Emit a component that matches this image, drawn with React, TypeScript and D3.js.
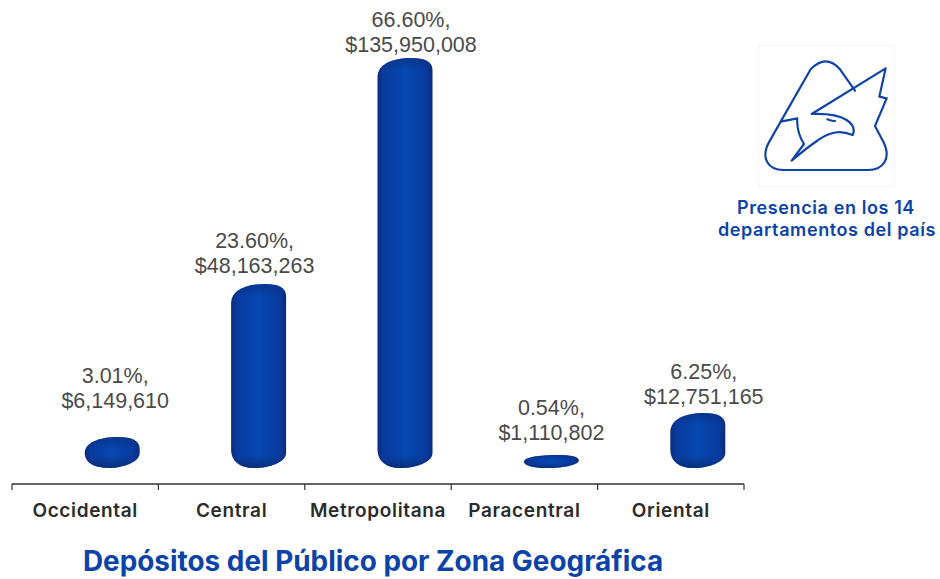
import React from "react";
import * as d3 from "d3";

const categories = ["Occidental", "Central", "Metropolitana", "Paracentral", "Oriental"];
const amounts = [6149610, 48163263, 135950008, 1110802, 12751165];
const shares = ["3.01%", "23.60%", "66.60%", "0.54%", "6.25%"];
const amountLabels = ["$6,149,610", "$48,163,263", "$135,950,008", "$1,110,802", "$12,751,165"];
const labelShift = [3, -4, 6, 0, 6];
const labelGap = [29, 11, 6, 15, 9];

const W = 940, H = 579;
const BLUE = "#0b43a8";

// The source's 3D rendering is not proportional, so the value scale has breakpoints read off the picture.
const heightScale = d3.scaleLinear()
  .domain([0, 1110802, 6149610, 12751165, 48163263, 135950008])
  .range([8, 13, 31, 55, 184, 410]);
const band = d3.scaleBand().domain(categories).range([12, 744]);
const baseY = 468, axisY = 484;
const barW = 55, barShift = 27;

function barPath(x0: number, top: number, bottom: number) {
  const x1 = x0 + barW, w = barW;
  const h = bottom - top;
  const tl = Math.min(19, 0.52 * h), tr = Math.min(12, 0.42 * h);
  const bl = Math.min(18, 0.48 * h), br = Math.min(15, 0.58 * h);
  const p = d3.path();
  p.moveTo(x0, top + tl);
  p.bezierCurveTo(x0, top + tl * 0.35, x0 + w * 0.25, top, x0 + w * 0.62, top);
  p.bezierCurveTo(x0 + w * 0.85, top, x1, top + tr * 0.3, x1, top + tr);
  p.lineTo(x1, bottom - br);
  p.bezierCurveTo(x1, bottom - br * 0.4, x0 + w * 0.7, bottom, x0 + w * 0.42, bottom);
  p.bezierCurveTo(x0 + w * 0.15, bottom, x0, bottom - bl * 0.4, x0, bottom - bl);
  p.closePath();
  return p.toString();
}

export default function App() {
  const bw = band.bandwidth();
  const tickXs = [...categories.map((c) => band(c)!), 744];
  return (
    <svg width={W} height={H} style={{ position: "absolute", left: 0, top: 0, background: "#fff" }}>
      <defs>
        <linearGradient id="side" x1="0" x2="1" y1="0" y2="0">
          <stop offset="0" stopColor="#0a2c78" />
          <stop offset="0.1" stopColor="#093a9c" />
          <stop offset="0.5" stopColor="#0749b4" />
          <stop offset="0.9" stopColor="#093a9c" />
          <stop offset="1" stopColor="#0a2b76" />
        </linearGradient>
      </defs>
      {categories.map((c, i) => {
        const x0 = band(c)! + bw / 2 + barShift - barW / 2;
        const top = baseY - heightScale(amounts[i]);
        const h = baseY - top;
        const id = `v${i}`;
        const capFrac = Math.min(0.42, 13 / h);
        const lx = x0 + barW / 2 + labelShift[i];
        return (
          <g key={c}>
            <linearGradient id={id} x1="0" x2="0" y1="0" y2="1">
              <stop offset="0" stopColor="#08307f" stopOpacity={0.7} />
              <stop offset={capFrac} stopColor="#08307f" stopOpacity={0} />
              <stop offset={1 - capFrac} stopColor="#08307f" stopOpacity={0} />
              <stop offset="1" stopColor="#08286e" stopOpacity={0.85} />
            </linearGradient>
            <path d={barPath(x0, top, baseY)} fill="url(#side)" />
            <path d={barPath(x0, top, baseY)} fill={`url(#${id})`} />
            <text
              textAnchor="middle"
              fontFamily="'Liberation Sans', Arial, sans-serif"
              fontSize={21.5}
              fill="#4a4a4a"
            >
              <tspan x={lx} y={top - labelGap[i] - 25}>{shares[i]},</tspan>
              <tspan x={lx} y={top - labelGap[i]}>{amountLabels[i]}</tspan>
            </text>
          </g>
        );
      })}
      <line x1={12} x2={744} y1={axisY} y2={axisY} stroke="#333" strokeWidth={1.5} />
      {tickXs.map((x) => (
        <line key={x} x1={x} x2={x} y1={axisY} y2={axisY + 6} stroke="#333" strokeWidth={1.2} />
      ))}
      {categories.map((c) => (
        <text
          key={c}
          x={band(c)! + bw / 2}
          y={517}
          textAnchor="middle"
          fontFamily="Inter, sans-serif"
          fontWeight={600}
          fontSize={19}
          letterSpacing={0.65}
          fill="#2b2b2b"
        >
          {c}
        </text>
      ))}
      <text x={373} y={571} textAnchor="middle" fontFamily="Inter, sans-serif" fontWeight={700} fontSize={27.9} fill={BLUE}>
        Depósitos del Público por Zona Geográfica
      </text>
      <rect x={758.5} y={45.5} width={136} height={141} fill="#fff" stroke="#f6f6f6" />
      <g transform="translate(740,40) scale(0.3333)" fill="none" stroke="#0f44a6" strokeWidth={6.5} strokeLinejoin="round" strokeLinecap="round">
        <path d="M345,152 L300,88 Q258,40 212,88 L122,245 L88,305 C60,355 85,390 130,390 L385,390 C430,390 455,355 430,305 L405,258 L440,175 L418,170 L437,85 L215,222 C260,220 295,225 320,240 C342,255 345,270 338,285 C300,270 270,275 235,300 C205,320 175,345 155,362 L192,312 C175,285 170,260 172,235 L122,245" />
        <path d="M262,238 Q275,244 285,243" />
      </g>
      <g textAnchor="middle" fontFamily="Inter, sans-serif" fontWeight={600} fontSize={18} letterSpacing={0.6} fill={BLUE}>
        <text x={826} y={214}>Presencia en los 14</text>
        <text x={827} y={236}>departamentos del país</text>
      </g>
    </svg>
  );
}
